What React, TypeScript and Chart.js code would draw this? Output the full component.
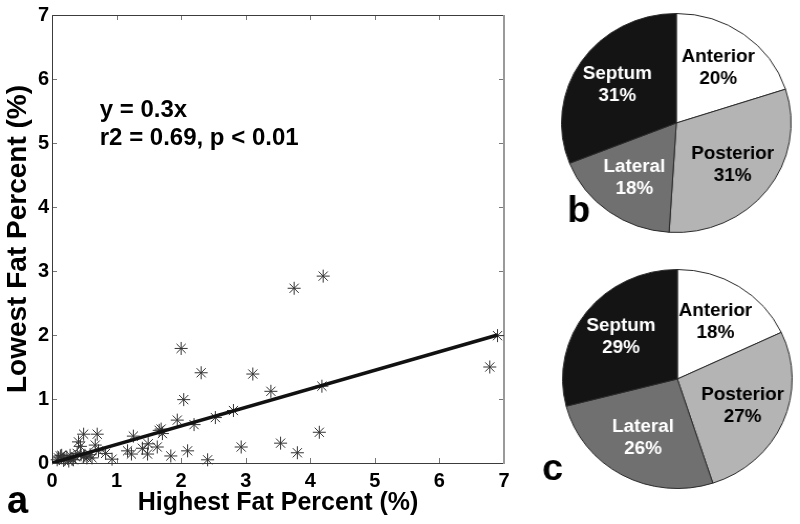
import React, { useEffect, useRef } from 'react';
import { Chart, registerables } from 'chart.js';

Chart.register(...registerables);

const FONT = '"Liberation Sans", Arial, Helvetica, sans-serif';

// Panel a: scatter data (x = highest fat %, y = lowest fat %)
const highestFat = [
  2.0, 2.31, 3.11, 3.39, 2.04, 2.81, 2.53, 2.2, 1.94, 1.69,
  1.71, 1.66, 1.26, 1.49, 1.63, 1.4, 1.48, 1.17, 1.23, 1.84,
  2.1, 2.41, 2.93, 3.54, 3.8, 0.49, 0.7, 0.41, 0.67, 0.44,
  0.83, 0.93, 0.49, 0.13, 0.23, 0.31, 0.36, 0.59, 0.18, 0.26,
  0.39, 0.54, 0.72, 3.75, 4.2, 6.9, 6.78, 4.18, 4.14, 0.1,
  0.15, 0.2, 0.28, 0.33, 0.45, 0.51, 0.62, 0.08,
];
const lowestFat = [
  1.79, 1.41, 1.39, 1.12, 0.99, 0.82, 0.71, 0.6, 0.67, 0.53,
  0.46, 0.51, 0.42, 0.3, 0.25, 0.23, 0.14, 0.19, 0.14, 0.11,
  0.19, 0.05, 0.25, 0.31, 0.16, 0.45, 0.45, 0.33, 0.28, 0.26,
  0.15, 0.06, 0.1, 0.11, 0.09, 0.06, 0.1, 0.13, 0.04, 0.03,
  0.15, 0.08, 0.19, 2.73, 2.92, 1.99, 1.5, 1.2, 0.48, 0.08,
  0.12, 0.06, 0.12, 0.05, 0.13, 0.12, 0.08, 0.05,
];
const fitX = [0, 6.9];
const fitY = [0, 2.0];
const axisTicks = [0, 1, 2, 3, 4, 5, 6, 7];
const equationLines = ['y = 0.3x', 'r2 = 0.69, p < 0.01'];
const equationAnchorX = 0.74;
const equationAnchorY = [5.41, 4.97];

// Panels b and c: regional distribution
const regionLabels = ['Anterior', 'Posterior', 'Lateral', 'Septum'];
const pieBValues = [20, 31, 18, 31];
const pieCValues = [18, 27, 26, 29];
const regionColors = ['#ffffff', '#b4b4b4', '#707070', '#141414'];
const regionTextColors = ['#000000', '#000000', '#ffffff', '#ffffff'];

const framePlugin = {
  id: 'frameTicks',
  beforeDatasetsDraw(chart: any) {
    const { ctx, chartArea: a, scales } = chart;
    const x = scales.x;
    const y = scales.y;
    ctx.save();
    ctx.lineWidth = 1;
    ctx.strokeStyle = '#777';
    ctx.beginPath();
    for (const t of axisTicks) {
      const px = Math.round(x.getPixelForValue(t)) + 0.5;
      ctx.moveTo(px, a.bottom);
      ctx.lineTo(px, a.bottom - 5);
      ctx.moveTo(px, a.top);
      ctx.lineTo(px, a.top + 5);
      const py = Math.round(y.getPixelForValue(t)) + 0.5;
      ctx.moveTo(a.left, py);
      ctx.lineTo(a.left + 5, py);
      ctx.moveTo(a.right, py);
      ctx.lineTo(a.right - 5, py);
    }
    ctx.stroke();
    ctx.strokeStyle = '#3c3c3c';
    ctx.beginPath();
    ctx.moveTo(Math.round(a.left) + 0.5, Math.round(a.top) + 0.5);
    ctx.lineTo(Math.round(a.left) + 0.5, Math.round(a.bottom) + 0.5);
    ctx.lineTo(Math.round(a.right), Math.round(a.bottom) + 0.5);
    ctx.moveTo(Math.round(a.left) + 0.5, Math.round(a.top) + 0.5);
    ctx.lineTo(Math.round(a.right), Math.round(a.top) + 0.5);
    ctx.stroke();
    ctx.strokeStyle = '#9a9a9a';
    ctx.lineWidth = 2;
    ctx.beginPath();
    ctx.moveTo(Math.round(a.right), Math.round(a.top));
    ctx.lineTo(Math.round(a.right), Math.round(a.bottom) + 1);
    ctx.stroke();
    ctx.restore();
  },
};

const equationPlugin = {
  id: 'equation',
  afterDatasetsDraw(chart: any) {
    const { ctx, scales } = chart;
    ctx.save();
    ctx.fillStyle = '#000';
    ctx.textBaseline = 'alphabetic';
    ctx.textAlign = 'left';
    ctx.font = `bold 24px ${FONT}`;
    equationLines.forEach((line, i) => {
      ctx.fillText(line, scales.x.getPixelForValue(equationAnchorX), scales.y.getPixelForValue(equationAnchorY[i]));
    });
    ctx.font = `bold 38px ${FONT}`;
    ctx.fillText('a', 7, 513);
    ctx.restore();
  },
};

const pieLabelPlugin = {
  id: 'pieLabels',
  afterDatasetsDraw(chart: any, _args: any, opts: any) {
    const { ctx } = chart;
    const meta = chart.getDatasetMeta(0);
    const values = chart.data.datasets[0].data as number[];
    ctx.save();
    ctx.font = `bold 18px ${FONT}`;
    ctx.textAlign = 'center';
    ctx.textBaseline = 'middle';
    meta.data.forEach((arc: any, i: number) => {
      const p = arc.getProps(['x', 'y', 'startAngle', 'endAngle', 'outerRadius'], true);
      const mid = (p.startAngle + p.endAngle) / 2;
      const r = p.outerRadius * 0.62;
      const cx = p.x + Math.cos(mid) * r;
      const cy = p.y + Math.sin(mid) * r;
      ctx.fillStyle = regionTextColors[i];
      ctx.fillText(chart.data.labels[i], cx, cy - 11);
      ctx.fillText(`${values[i]}%`, cx, cy + 11);
    });
    if (opts && opts.letter) {
      ctx.fillStyle = '#000';
      ctx.textAlign = 'left';
      ctx.textBaseline = 'alphabetic';
      ctx.font = `bold 36px ${FONT}`;
      ctx.fillText(opts.letter, opts.lx, opts.ly);
    }
    ctx.restore();
  },
};

function makePie(canvas: HTMLCanvasElement, values: number[], padding: any, letter: any) {
  return new Chart(canvas, {
    type: 'pie',
    data: {
      labels: regionLabels,
      datasets: [
        {
          data: values,
          backgroundColor: regionColors,
          borderColor: '#2a2a2a',
          borderWidth: 1,
        },
      ],
    },
    options: {
      animation: false,
      responsive: false,
      devicePixelRatio: 1,
      layout: { padding },
      plugins: {
        legend: { display: false },
        tooltip: { enabled: false },
        pieLabels: letter,
      } as any,
    },
    plugins: [pieLabelPlugin],
  });
}

export default function App() {
  const scatterRef = useRef<HTMLCanvasElement>(null);
  const pieBRef = useRef<HTMLCanvasElement>(null);
  const pieCRef = useRef<HTMLCanvasElement>(null);

  useEffect(() => {
    const tickFont = { family: FONT, size: 20, weight: 'bold' as const };
    const scatter = new Chart(scatterRef.current!, {
      type: 'scatter',
      data: {
        datasets: [
          {
            type: 'line',
            data: fitX.map((x, i) => ({ x, y: fitY[i] })),
            borderColor: '#111',
            borderWidth: 3.5,
            pointRadius: 0,
            fill: false,
            tension: 0,
          } as any,
          {
            data: highestFat.map((x, i) => ({ x, y: lowestFat[i] })),
            pointStyle: 'star',
            pointRadius: 6.5,
            pointBorderWidth: 1,
            borderColor: '#333',
            backgroundColor: 'rgba(0,0,0,0)',
            clip: false,
          } as any,
        ],
      },
      options: {
        animation: false,
        responsive: false,
        devicePixelRatio: 1,
        layout: { padding: { left: 0, top: 13, right: 36, bottom: 0 } },
        plugins: { legend: { display: false }, tooltip: { enabled: false } },
        scales: {
          x: {
            type: 'linear',
            min: 0,
            max: 7,
            ticks: { stepSize: 1, font: tickFont, color: '#000', padding: 6 },
            grid: { display: false, drawTicks: false },
            border: { display: false },
            title: {
              display: true,
              text: 'Highest Fat Percent (%)',
              color: '#000',
              font: { family: FONT, size: 25, weight: 'bold' },
              padding: { top: 0, bottom: 6 },
            },
            afterFit: (s: any) => {
              s.height = 61;
            },
          },
          y: {
            type: 'linear',
            min: 0,
            max: 7,
            ticks: { stepSize: 1, font: tickFont, color: '#000', padding: 3 },
            grid: { display: false, drawTicks: false },
            border: { display: false },
            title: {
              display: true,
              text: 'Lowest Fat Percent (%)',
              color: '#000',
              font: { family: FONT, size: 28, weight: 'bold' },
              padding: { top: 1, bottom: 0 },
            },
            afterFit: (s: any) => {
              s.width = 52;
            },
          },
        },
      },
      plugins: [framePlugin, equationPlugin],
    });

    const pieB = makePie(pieBRef.current!, pieBValues, { left: 20, right: 8, top: 13, bottom: 23 }, { letter: 'b', lx: 26, ly: 222 });
    const pieC = makePie(pieCRef.current!, pieCValues, { left: 21, right: 7, top: 13, bottom: 35 }, { letter: 'c', lx: 2, ly: 224 });

    return () => {
      scatter.destroy();
      pieB.destroy();
      pieC.destroy();
    };
  }, []);

  return (
    <div style={{ position: 'absolute', left: 0, top: 0, width: 800, height: 524, background: '#fff', overflow: 'hidden' }}>
      <canvas ref={scatterRef} width={540} height={524} style={{ position: 'absolute', left: 0, top: 0 }} />
      <canvas ref={pieBRef} width={248} height={256} style={{ position: 'absolute', left: 540, top: 0, width: 260, height: 256 }} />
      <canvas ref={pieCRef} width={248} height={268} style={{ position: 'absolute', left: 540, top: 256, width: 260, height: 268 }} />
    </div>
  );
}
